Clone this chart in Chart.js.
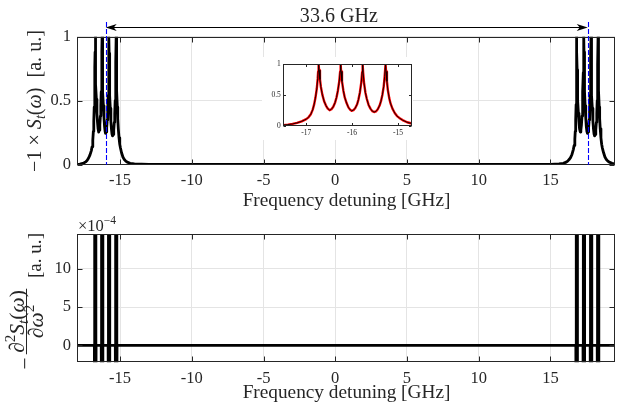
<!DOCTYPE html>
<html><head><meta charset="utf-8">
<script src="https://cdn.jsdelivr.net/npm/chart.js@4.4.1/dist/chart.umd.min.js"></script>
<style>
html,body{margin:0;padding:0;background:#fff;}
#wrap{position:relative;width:618px;height:409px;overflow:hidden;background:#fff;}
canvas{position:absolute;display:block;}
</style></head><body>
<div id="wrap">
<canvas id="top" width="618" height="215" style="left:0;top:0;width:618px;height:215px"></canvas>
<canvas id="bot" width="618" height="194" style="left:0;top:215px;width:618px;height:194px"></canvas>
<canvas id="inset" width="151" height="83" style="left:262px;top:57px;width:151px;height:83px;background:#fff"></canvas>
</div>
<script>
// ---------------- data ----------------
const xTicks = [-15, -10, -5, 0, 5, 10, 15];
const topYTicks = [0, 0.5, 1];
const botYTicks = [0, 5, 10];          // in units of 1e-4
const insetXTicks = [-17, -16, -15];
const insetYTicks = [0, 0.5, 1];
const markerX = [-16, 17.6];            // blue dashed reference lines (GHz)
const spanLabel = '33.6 GHz';
const spanLabelX = 0.25;
const xTitle = 'Frequency detuning [GHz]';
const expLabel = ['×10', '−4'];

// -1 x S_t(omega), left resonance group
const leftGroupX = [-18.0,-17.8,-17.6,-17.5,-17.4,-17.3,-17.2,-17.1,-17.0,-16.95,-16.9,-16.86,-16.83,-16.8,-16.77,-16.75,-16.74,-16.73,
 -16.72,-16.70,-16.68,-16.65,-16.61,-16.57,-16.53,-16.49,-16.45,-16.41,-16.37,-16.34,-16.31,-16.28,-16.26,-16.25,
 -16.24,-16.22,-16.19,-16.16,-16.12,-16.08,-16.04,-16.01,-15.97,-15.93,-15.89,-15.86,-15.83,-15.80,-15.78,-15.77,
 -15.76,-15.74,-15.71,-15.68,-15.64,-15.60,-15.56,-15.52,-15.48,-15.44,-15.40,-15.37,-15.34,-15.31,-15.29,-15.27,
 -15.26,-15.24,-15.22,-15.19,-15.16,-15.12,-15.07,-15.02,-14.97,-14.9,-14.8,-14.7,-14.6,-14.5,-14.3,-14.0,-13.0];
const leftGroupY = [0,0.004,0.01,0.015,0.022,0.033,0.05,0.075,0.11,0.14,0.19,0.26,0.34,0.45,0.6,0.76,0.88,1.0,
 0.9,0.75,0.63,0.51,0.4,0.33,0.28,0.255,0.27,0.31,0.38,0.46,0.57,0.72,0.88,1.0,
 0.88,0.72,0.57,0.46,0.37,0.3,0.26,0.245,0.255,0.29,0.35,0.43,0.54,0.7,0.87,1.0,
 0.87,0.7,0.54,0.44,0.34,0.28,0.24,0.225,0.235,0.27,0.33,0.4,0.5,0.64,0.8,1.0,
 0.88,0.72,0.58,0.45,0.36,0.28,0.21,0.16,0.13,0.095,0.06,0.04,0.028,0.02,0.011,0.006,0.003];

// right resonance group
const rightGroupX = [15.0,15.6,15.9,16.1,16.2,16.3,16.4,16.5,16.6,16.65,16.7,16.73,16.76,16.79,16.81,16.82,16.83,
 16.84,16.86,16.88,16.91,16.95,16.99,17.03,17.08,17.12,17.16,17.2,17.23,17.26,17.29,17.31,17.33,
 17.34,17.36,17.39,17.42,17.46,17.5,17.54,17.58,17.62,17.66,17.7,17.73,17.76,17.79,17.81,17.83,
 17.84,17.86,17.89,17.92,17.96,18.0,18.04,18.08,18.12,18.16,18.2,18.23,18.26,18.28,18.3,18.32,
 18.33,18.35,18.37,18.4,18.43,18.47,18.52,18.57,18.62,18.7,18.8,18.9,19.0,19.1,19.3,19.5];
const rightGroupY = [0.003,0.006,0.011,0.02,0.028,0.04,0.055,0.08,0.12,0.15,0.2,0.26,0.35,0.47,0.62,0.78,1.0,
 0.88,0.74,0.62,0.5,0.4,0.33,0.28,0.255,0.27,0.31,0.38,0.46,0.57,0.72,0.86,1.0,
 0.88,0.72,0.57,0.46,0.37,0.3,0.26,0.245,0.255,0.29,0.35,0.43,0.54,0.7,0.86,1.0,
 0.87,0.7,0.54,0.44,0.34,0.28,0.24,0.225,0.235,0.27,0.33,0.4,0.5,0.62,0.78,1.0,
 0.88,0.72,0.58,0.45,0.36,0.28,0.21,0.16,0.13,0.095,0.06,0.04,0.028,0.02,0.011,0.007];

// -d2S/dw2 (x1e-4): narrow spikes, running off the plotted range
const bottomX = [-18,
 -16.79,-16.775,-16.76,-16.70,-16.685,-16.67,
 -16.31,-16.295,-16.28,-16.22,-16.205,-16.19,
 -15.83,-15.815,-15.80,-15.74,-15.725,-15.71,
 -15.33,-15.315,-15.30,-15.24,-15.225,-15.21,
 16.77,16.785,16.80,16.86,16.875,16.89,
 17.27,17.285,17.30,17.36,17.375,17.39,
 17.77,17.785,17.80,17.86,17.875,17.89,
 18.26,18.275,18.29,18.35,18.365,18.38,
 19.5];
const bottomY = [0,
 0,-10,40,40,-10,0,
 0,-10,40,40,-10,0,
 0,-10,40,40,-10,0,
 0,-10,40,40,-10,0,
 0,-10,40,40,-10,0,
 0,-10,40,40,-10,0,
 0,-10,40,40,-10,0,
 0,-10,40,40,-10,0,
 0];

// ---------------- helpers ----------------
const SERIF = '"Liberation Serif", "Times New Roman", serif';
const INK = '#262626';
function fontStr(size, it){ return (it ? 'italic ' : '') + size.toFixed(2) + 'px ' + SERIF; }
function partsWidth(ctx, parts, s){ let w = 0; for (const p of parts){ ctx.font = fontStr(s*(p.k||1), p.it); w += ctx.measureText(p.t).width; } return w; }
function drawParts(ctx, parts, s, x, y){ for (const p of parts){ ctx.font = fontStr(s*(p.k||1), p.it); ctx.fillText(p.t, x, y + s*(p.dy||0)); x += ctx.measureText(p.t).width; } return x; }
function fitSize(ctx, parts, target){ return 100 * target / partsWidth(ctx, parts, 100); }
const pts = (xs, ys) => xs.map((x, i) => ({x, y: ys[i]}));
const fmt = v => String(v);

const boxPlugin = {
  id: 'mbox',
  afterDatasetsDraw(chart, args, o) {
    const {ctx, chartArea: a, scales: {x, y}} = chart;
    const L = o.len || 5;
    ctx.save();
    ctx.strokeStyle = INK; ctx.lineWidth = 1; ctx.setLineDash([]);
    const l = Math.round(a.left) + 0.5, r = Math.round(a.right) - 0.5, t = Math.round(a.top) + 0.5, b = Math.round(a.bottom) - 0.5;
    ctx.strokeRect(l, t, r - l, b - t);
    ctx.beginPath();
    for (const tk of x.ticks) { const px = Math.round(x.getPixelForValue(tk.value)) + 0.5; ctx.moveTo(px, b); ctx.lineTo(px, b - L); ctx.moveTo(px, t); ctx.lineTo(px, t + L); }
    for (const tk of y.ticks) { const py = Math.round(y.getPixelForValue(tk.value)) + 0.5; ctx.moveTo(l, py); ctx.lineTo(l + L, py); ctx.moveTo(r, py); ctx.lineTo(r - L, py); }
    ctx.stroke();
    ctx.restore();
  }
};

function baseScales(xmin, xmax, ymin, ymax, xt, yt, fontSize, yWidth, xHeight, xPad, yPad, grid) {
  return {
    x: { type: 'linear', min: xmin, max: xmax,
      afterBuildTicks: s => { s.ticks = xt.map(v => ({value: v})); },
      afterFit: s => { s.height = xHeight; },
      grid: { display: grid, color: '#e4e4e4', lineWidth: 1, drawTicks: false },
      border: { display: false },
      ticks: { callback: fmt, color: INK, padding: xPad, maxRotation: 0, autoSkip: false,
               font: { family: SERIF, size: fontSize, lineHeight: 1.2 } } },
    y: { type: 'linear', min: ymin, max: ymax,
      afterBuildTicks: s => { s.ticks = yt.map(v => ({value: v})); },
      afterFit: s => { s.width = yWidth; },
      grid: { display: grid, color: '#e4e4e4', lineWidth: 1, drawTicks: false },
      border: { display: false },
      ticks: { callback: fmt, color: INK, padding: yPad, autoSkip: false,
               font: { family: SERIF, size: fontSize, lineHeight: 1.2 } } }
  };
}
const common = { responsive: false, animation: false, devicePixelRatio: 1, events: [],
  plugins: { legend: { display: false }, tooltip: { enabled: false } } };
const lineDs = (data, color, w) => ({ data, borderColor: color, borderWidth: w, pointRadius: 0, tension: 0,
  borderJoinStyle: 'round', borderCapStyle: 'round', fill: false });

// ---------------- top chart ----------------
const topDecor = {
  id: 'topDecor',
  afterDatasetsDraw(chart) {
    const {ctx, chartArea: a, scales: {x}} = chart;
    ctx.save();
    ctx.strokeStyle = '#0000ff'; ctx.lineWidth = 1.1; ctx.setLineDash([5, 2]);
    for (const m of markerX) { const px = Math.round(x.getPixelForValue(m)) + 0.5; ctx.beginPath(); ctx.moveTo(px, 22); ctx.lineTo(px, a.bottom); ctx.stroke(); }
    ctx.restore();
  },
  afterDraw(chart) {
    const {ctx, chartArea: a, scales: {x}} = chart;
    ctx.save();
    // double arrow
    const x1 = x.getPixelForValue(markerX[0]), x2 = x.getPixelForValue(markerX[1]), ay = 27.5;
    ctx.strokeStyle = '#000'; ctx.fillStyle = '#000'; ctx.lineWidth = 1;
    ctx.beginPath(); ctx.moveTo(x1 + 4, ay); ctx.lineTo(x2 - 4, ay); ctx.stroke();
    for (const [tip, d] of [[x1, 1], [x2, -1]]) {
      ctx.beginPath(); ctx.moveTo(tip, ay); ctx.lineTo(tip + d*11, ay - 3.5); ctx.lineTo(tip + d*8, ay); ctx.lineTo(tip + d*11, ay + 3.5); ctx.closePath(); ctx.fill();
    }
    // span label
    ctx.fillStyle = INK; ctx.textBaseline = 'alphabetic'; ctx.textAlign = 'center';
    const sp = [{t: spanLabel}];
    ctx.font = fontStr(fitSize(ctx, sp, 78));
    ctx.fillText(spanLabel, x.getPixelForValue(spanLabelX), 22);
    // x title
    const xt = [{t: xTitle}];
    ctx.font = fontStr(fitSize(ctx, xt, 208));
    ctx.fillText(xTitle, (a.left + a.right) / 2 + 0.5, 206);
    // y title
    ctx.textAlign = 'left';
    const yl = [{t: '−1 × '}, {t: 'S', it: 1}, {t: 't', it: 1, k: 0.7, dy: 0.2}, {t: '('}, {t: 'ω', it: 1}, {t: ')  [a. u.]'}];
    const s = fitSize(ctx, yl, 142);
    const w = partsWidth(ctx, yl, s);
    ctx.translate(41, 101); ctx.rotate(-Math.PI / 2);
    drawParts(ctx, yl, s, -w / 2, 0);
    ctx.restore();
  }
};
new Chart(document.getElementById('top'), {
  type: 'line',
  data: { datasets: [ lineDs(pts(leftGroupX, leftGroupY).concat(pts(rightGroupX, rightGroupY)), '#000', 2.8) ] },
  options: Object.assign({}, common, {
    layout: { padding: { left: 37, right: 3, top: 36.7, bottom: 10 } },
    scales: baseScales(-18, 19.5, 0, 1, xTicks, topYTicks, 16.5, 40, 40.3, 6, 6, true),
    plugins: Object.assign({}, common.plugins, { mbox: { len: 5 } })
  }),
  plugins: [boxPlugin, topDecor]
});

// ---------------- bottom chart ----------------
const botDecor = {
  id: 'botDecor',
  afterDraw(chart) {
    const {ctx, chartArea: a} = chart;
    ctx.save();
    ctx.fillStyle = INK; ctx.textBaseline = 'alphabetic';
    // x title
    ctx.textAlign = 'center';
    const xt = [{t: xTitle}];
    ctx.font = fontStr(fitSize(ctx, xt, 208));
    ctx.fillText(xTitle, (a.left + a.right) / 2 + 0.5, 183);
    // exponent
    ctx.textAlign = 'left';
    ctx.font = fontStr(16.5); ctx.fillText(expLabel[0], 78, 15.5);
    const ew = ctx.measureText(expLabel[0]).width;
    ctx.font = fontStr(11.5); ctx.fillText(expLabel[1], 78 + ew, 8.5);
    // y title: − d2S/dw2 [a. u.]
    const cy = 86;
    ctx.translate(0, cy); ctx.rotate(-Math.PI / 2);
    const s = 21.5;
    const num = [{t: '∂'}, {t: '2', k: 0.7, dy: -0.38}, {t: 'S', it: 1}, {t: 't', it: 1, k: 0.7, dy: 0.2}, {t: '('}, {t: 'ω', it: 1}, {t: ')'}];
    const den = [{t: '∂'}, {t: 'ω', it: 1}, {t: '2', k: 0.7, dy: -0.38}];
    const nw = partsWidth(ctx, num, s), dw = partsWidth(ctx, den, s);
    const fc = -20.5;
    drawParts(ctx, num, s, fc - nw / 2, 23.5);
    drawParts(ctx, den, s, fc - dw / 2, 42.5);
    const bw = Math.max(nw, dw) + 3;
    ctx.fillRect(fc - bw / 2, 26, bw, 1);
    const mn = [{t: '−'}];
    const mw = partsWidth(ctx, mn, s);
    drawParts(ctx, mn, s, fc - bw / 2 - 3 - mw, 32);
    const au = [{t: '[a. u.]'}];
    const as = fitSize(ctx, au, 45);
    drawParts(ctx, au, as, 23, 41);
    ctx.restore();
  }
};
new Chart(document.getElementById('bot'), {
  type: 'line',
  data: { datasets: [ lineDs(pts(bottomX, bottomY), '#000', 2.8) ] },
  options: Object.assign({}, common, {
    layout: { padding: { left: 37, right: 3, top: 19.3, bottom: 6.7 } },
    scales: baseScales(-18, 19.5, -2.2, 14.5, xTicks, botYTicks, 16.5, 40, 40, 6, 6, true),
    plugins: Object.assign({}, common.plugins, { mbox: { len: 5 } })
  }),
  plugins: [boxPlugin, botDecor]
});

// ---------------- inset ----------------
new Chart(document.getElementById('inset'), {
  type: 'line',
  data: { datasets: [
    lineDs(pts(leftGroupX, leftGroupY), '#000000', 0.9),
    lineDs(pts(leftGroupX, leftGroupY), '#ff0000', 2.4)
  ] },
  options: Object.assign({}, common, {
    layout: { padding: { left: 3.3, right: 1.3, top: 5.7, bottom: 2 } },
    scales: baseScales(-17.5, -14.7, 0, 1, insetXTicks, insetYTicks, 7.5, 18, 12, 2.5, 2.5, false),
    plugins: Object.assign({}, common.plugins, { mbox: { len: 2.5 } })
  }),
  plugins: [boxPlugin]
});
</script>
</body></html>
